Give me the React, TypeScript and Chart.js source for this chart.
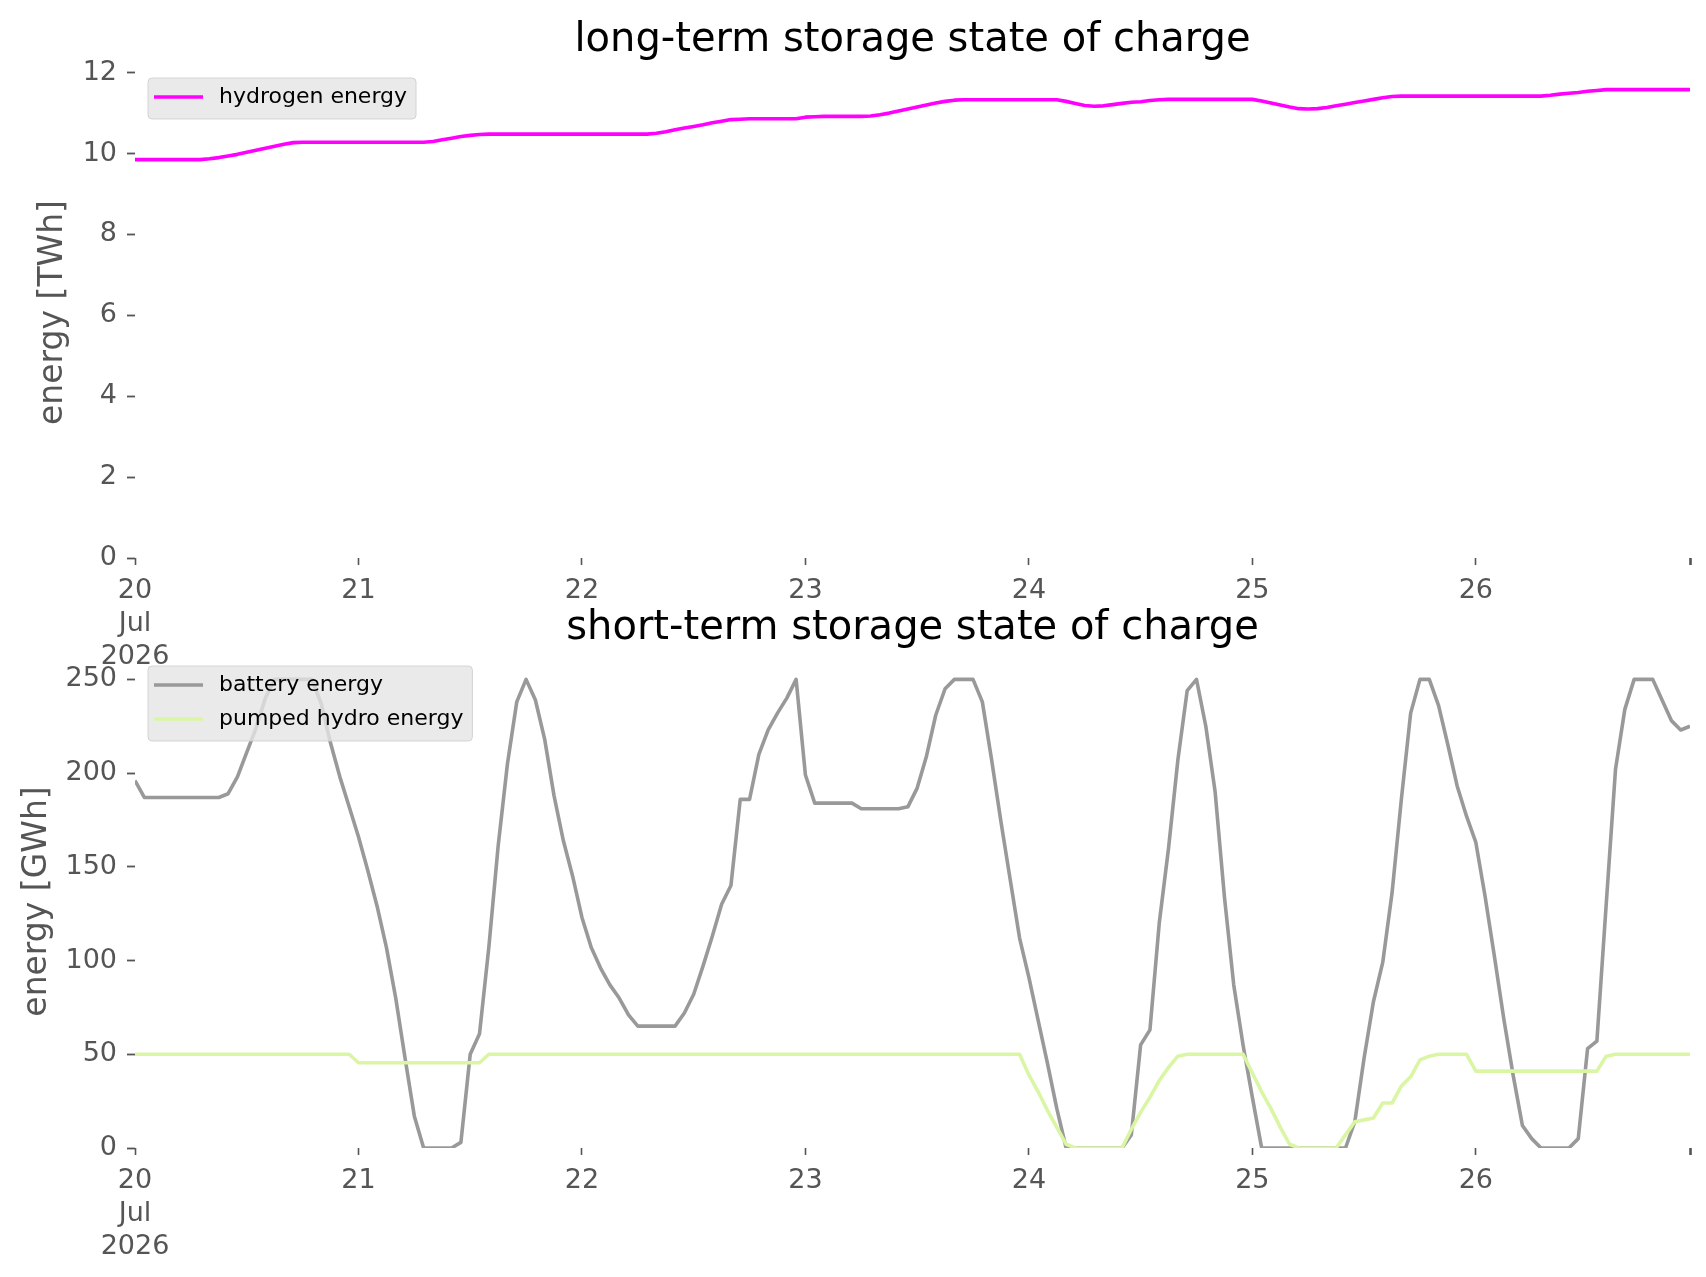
import { useEffect, useRef } from 'react'
import { Chart, registerables } from 'chart.js'
import type { ChartConfiguration, Plugin } from 'chart.js'

Chart.register(...registerables)

const FONT = "'DejaVu Sans', 'Liberation Sans', sans-serif"
const TICK_GREY = '#555555'
const PAGE_W = 1706
const PLOT_LEFT = 135
const PLOT_RIGHT = 1690

// one point per hour, starting 20 Jul 2026 00:00
const hourIndex: number[] = Array.from({ length: 168 }, (_, i) => i)
const dayTicks = [0, 24, 48, 72, 96, 120, 144]
const dayLabels = ['20', '21', '22', '23', '24', '25', '26']
const monthLabel = 'Jul'
const yearLabel = '2026'
const lastHour = 167

const twhTicks = [0, 2, 4, 6, 8, 10, 12]
const gwhTicks = [0, 50, 100, 150, 200, 250]

// TWh (one row per day)
const hydrogenEnergy = [
  9.85, 9.85, 9.85, 9.85, 9.85, 9.85, 9.85, 9.85, 9.87, 9.9, 9.94, 9.98, 10.03, 10.08, 10.13, 10.18, 10.23, 10.27, 10.28, 10.28, 10.28, 10.28, 10.28, 10.28,
  10.28, 10.28, 10.28, 10.28, 10.28, 10.28, 10.28, 10.28, 10.3, 10.34, 10.38, 10.42, 10.45, 10.47, 10.48, 10.48, 10.48, 10.48, 10.48, 10.48, 10.48, 10.48, 10.48, 10.48,
  10.48, 10.48, 10.48, 10.48, 10.48, 10.48, 10.48, 10.48, 10.5, 10.54, 10.59, 10.63, 10.67, 10.71, 10.76, 10.8, 10.84, 10.85, 10.86, 10.86, 10.86, 10.86, 10.86, 10.86,
  10.9, 10.91, 10.92, 10.92, 10.92, 10.92, 10.92, 10.93, 10.96, 11.0, 11.05, 11.1, 11.15, 11.2, 11.25, 11.29, 11.32, 11.33, 11.33, 11.33, 11.33, 11.33, 11.33, 11.33,
  11.33, 11.33, 11.33, 11.33, 11.29, 11.24, 11.19, 11.17, 11.18, 11.21, 11.24, 11.27, 11.28, 11.31, 11.33, 11.34, 11.34, 11.34, 11.34, 11.34, 11.34, 11.34, 11.34, 11.34,
  11.34, 11.3, 11.25, 11.2, 11.15, 11.11, 11.1, 11.11, 11.14, 11.18, 11.22, 11.26, 11.3, 11.34, 11.38, 11.41, 11.42, 11.42, 11.42, 11.42, 11.42, 11.42, 11.42, 11.42,
  11.42, 11.42, 11.42, 11.42, 11.42, 11.42, 11.42, 11.42, 11.44, 11.47, 11.49, 11.51, 11.54, 11.56, 11.58, 11.58, 11.58, 11.58, 11.58, 11.58, 11.58, 11.58, 11.58, 11.58,
]

// GWh
const batteryEnergy = [
  196, 187, 187, 187, 187, 187, 187, 187, 187, 187, 189, 198, 211, 224, 240, 250, 250, 250, 250, 250, 237, 216, 198, 182,
  166, 148, 129, 107, 80, 48, 17, 0, 0, 0, 0, 3, 50, 61, 107, 161, 205, 238, 250, 239, 218, 188, 164, 145,
  123, 107, 96, 87, 80, 71, 65, 65, 65, 65, 65, 72, 82, 97, 113, 130, 140, 186, 186, 210, 223, 232, 240, 250,
  199, 184, 184, 184, 184, 184, 181, 181, 181, 181, 181, 182, 192, 209, 231, 245, 250, 250, 250, 238, 207, 174, 143, 112,
  91, 68, 45, 21, 0, 0, 0, 0, 0, 0, 0, 7, 55, 63, 120, 160, 207, 244, 250, 225, 190, 134, 87, 55,
  27, 0, 0, 0, 0, 0, 0, 0, 0, 0, 0, 14, 48, 78, 99, 136, 186, 232, 250, 250, 236, 215, 193, 177,
  163, 134, 102, 69, 39, 12, 5, 0, 0, 0, 0, 5, 53, 57, 130, 202, 234, 250, 250, 250, 239, 228, 223, 225,
]

const pumpedHydroEnergy = [
  50, 50, 50, 50, 50, 50, 50, 50, 50, 50, 50, 50, 50, 50, 50, 50, 50, 50, 50, 50, 50, 50, 50, 50,
  45.5, 45.5, 45.5, 45.5, 45.5, 45.5, 45.5, 45.5, 45.5, 45.5, 45.5, 45.5, 45.5, 45.5, 50, 50, 50, 50, 50, 50, 50, 50, 50, 50,
  50, 50, 50, 50, 50, 50, 50, 50, 50, 50, 50, 50, 50, 50, 50, 50, 50, 50, 50, 50, 50, 50, 50, 50,
  50, 50, 50, 50, 50, 50, 50, 50, 50, 50, 50, 50, 50, 50, 50, 50, 50, 50, 50, 50, 50, 50, 50, 50,
  39, 30, 20, 11, 2, 0, 0, 0, 0, 0, 0, 10, 19, 27, 36, 43, 49, 50, 50, 50, 50, 50, 50, 50,
  40, 30, 21, 11, 2, 0, 0, 0, 0, 0, 7, 14, 15, 16, 24, 24, 33, 38, 47, 49, 50, 50, 50, 50,
  41, 41, 41, 41, 41, 41, 41, 41, 41, 41, 41, 41, 41, 41, 49, 50, 50, 50, 50, 50, 50, 50, 50, 50,
]

interface Series {
  label: string
  color: string
  values: number[]
  order: number
}

interface DecorOptions {
  title: string
}

// title above the axes and a matplotlib-like legend in the upper-left corner
const decorPlugin: Plugin<'line', DecorOptions> = {
  id: 'decor',
  afterDatasetsDraw(chart, _args, opts) {
    const { ctx, chartArea } = chart
    ctx.save()

    ctx.fillStyle = '#000000'
    ctx.font = `40px ${FONT}`
    ctx.textAlign = 'center'
    ctx.textBaseline = 'alphabetic'
    ctx.fillText(opts.title, (chartArea.left + chartArea.right) / 2, chartArea.top - 16)

    const items = chart.data.datasets.map((d) => ({ label: String(d.label), color: String(d.borderColor) }))
    ctx.font = `22px ${FONT}`
    const textW = Math.max(...items.map((it) => ctx.measureText(it.label).width))
    const bx = chartArea.left + 13
    const by = chartArea.top + 11
    const bw = 71 + textW + 9
    const bh = 7 + items.length * 34
    ctx.beginPath()
    ctx.roundRect(bx, by, bw, bh, 4)
    ctx.fillStyle = 'rgba(229,229,229,0.8)'
    ctx.fill()
    ctx.lineWidth = 1
    ctx.strokeStyle = 'rgba(204,204,204,0.8)'
    ctx.stroke()

    items.forEach((it, i) => {
      const cy = by + 19 + i * 34
      ctx.beginPath()
      ctx.moveTo(bx + 6, cy)
      ctx.lineTo(bx + 55, cy)
      ctx.lineWidth = 3.6
      ctx.strokeStyle = it.color
      ctx.stroke()
      ctx.fillStyle = '#000000'
      ctx.textAlign = 'left'
      ctx.textBaseline = 'middle'
      ctx.fillText(it.label, bx + 71, cy)
    })
    ctx.restore()
  },
}

function xTickLabel(value: number): string | string[] {
  const i = dayTicks.indexOf(value)
  if (i < 0) return ''
  if (i === 0) return [dayLabels[0], monthLabel, yearLabel]
  return dayLabels[i]
}

interface PanelProps {
  top: number
  height: number
  plotTop: number
  plotBottom: number
  title: string
  yTitle: string
  yTitlePad: number
  yMax: number
  yTicks: number[]
  series: Series[]
}

function StoragePanel({ top, height, plotTop, plotBottom, title, yTitle, yTitlePad, yMax, yTicks, series }: PanelProps) {
  const canvasRef = useRef<HTMLCanvasElement>(null)

  useEffect(() => {
    const canvas = canvasRef.current
    if (!canvas) return

    const config: ChartConfiguration<'line'> = {
      type: 'line',
      data: {
        datasets: series.map((s) => ({
          label: s.label,
          data: hourIndex.map((h, i) => ({ x: h, y: s.values[i] })),
          borderColor: s.color,
          backgroundColor: s.color,
          borderWidth: 3.6,
          borderJoinStyle: 'round',
          pointRadius: 0,
          tension: 0,
          order: s.order,
        })),
      },
      options: {
        responsive: false,
        animation: false,
        layout: { padding: { top: plotTop, left: 0, right: PAGE_W - PLOT_RIGHT, bottom: 0 } },
        plugins: {
          legend: { display: false },
          tooltip: { enabled: false },
          decor: { title },
        } as any,
        scales: {
          x: {
            type: 'linear',
            min: 0,
            max: lastHour,
            border: { display: false },
            grid: {
              drawOnChartArea: false,
              drawTicks: true,
              tickLength: 7,
              tickColor: TICK_GREY,
              tickWidth: (c: any) => (c.index === dayTicks.length ? 2.6 : 1.6),
            },
            ticks: {
              autoSkip: false,
              maxRotation: 0,
              padding: 9,
              color: TICK_GREY,
              font: { family: FONT, size: 27, lineHeight: 1.222 },
              callback: (v) => xTickLabel(Number(v)),
            },
            afterBuildTicks: (s) => {
              s.ticks = [...dayTicks, lastHour].map((value) => ({ value }))
            },
            afterFit: (s) => {
              s.height = height - plotBottom
            },
          },
          y: {
            type: 'linear',
            min: 0,
            max: yMax,
            border: { display: false },
            grid: { drawOnChartArea: false, drawTicks: true, tickLength: 8, tickColor: TICK_GREY, tickWidth: 1.8 },
            ticks: { padding: 10, color: TICK_GREY, font: { family: FONT, size: 27 } },
            afterBuildTicks: (s) => {
              s.ticks = yTicks.map((value) => ({ value }))
            },
            afterFit: (s) => {
              s.width = PLOT_LEFT
            },
            title: {
              display: true,
              text: yTitle,
              color: TICK_GREY,
              font: { family: FONT, size: 33 },
              padding: { top: yTitlePad, bottom: 0 },
            },
          },
        },
      },
      plugins: [decorPlugin],
    }

    const chart = new Chart(canvas, config)
    return () => chart.destroy()
  }, [height, plotTop, plotBottom, title, yTitle, yTitlePad, yMax, yTicks, series])

  return (
    <canvas
      ref={canvasRef}
      width={PAGE_W}
      height={height}
      style={{ position: 'absolute', left: 0, top, width: PAGE_W, height }}
    />
  )
}

const longTermSeries: Series[] = [{ label: 'hydrogen energy', color: '#ff00ff', values: hydrogenEnergy, order: 0 }]
const shortTermSeries: Series[] = [
  { label: 'battery energy', color: '#999999', values: batteryEnergy, order: 1 },
  { label: 'pumped hydro energy', color: '#daf6a4', values: pumpedHydroEnergy, order: 0 },
]

export default function App() {
  return (
    <div style={{ position: 'absolute', left: 0, top: 0, width: PAGE_W, height: 1277, background: '#ffffff' }}>
      <StoragePanel
        top={0}
        height={680}
        plotTop={67}
        plotBottom={558}
        title="long-term storage state of charge"
        yTitle="energy [TWh]"
        yTitlePad={34}
        yMax={12.14}
        yTicks={twhTicks}
        series={longTermSeries}
      />
      <StoragePanel
        top={560}
        height={717}
        plotTop={95}
        plotBottom={588}
        title="short-term storage state of charge"
        yTitle="energy [GWh]"
        yTitlePad={18}
        yMax={263}
        yTicks={gwhTicks}
        series={shortTermSeries}
      />
    </div>
  )
}
